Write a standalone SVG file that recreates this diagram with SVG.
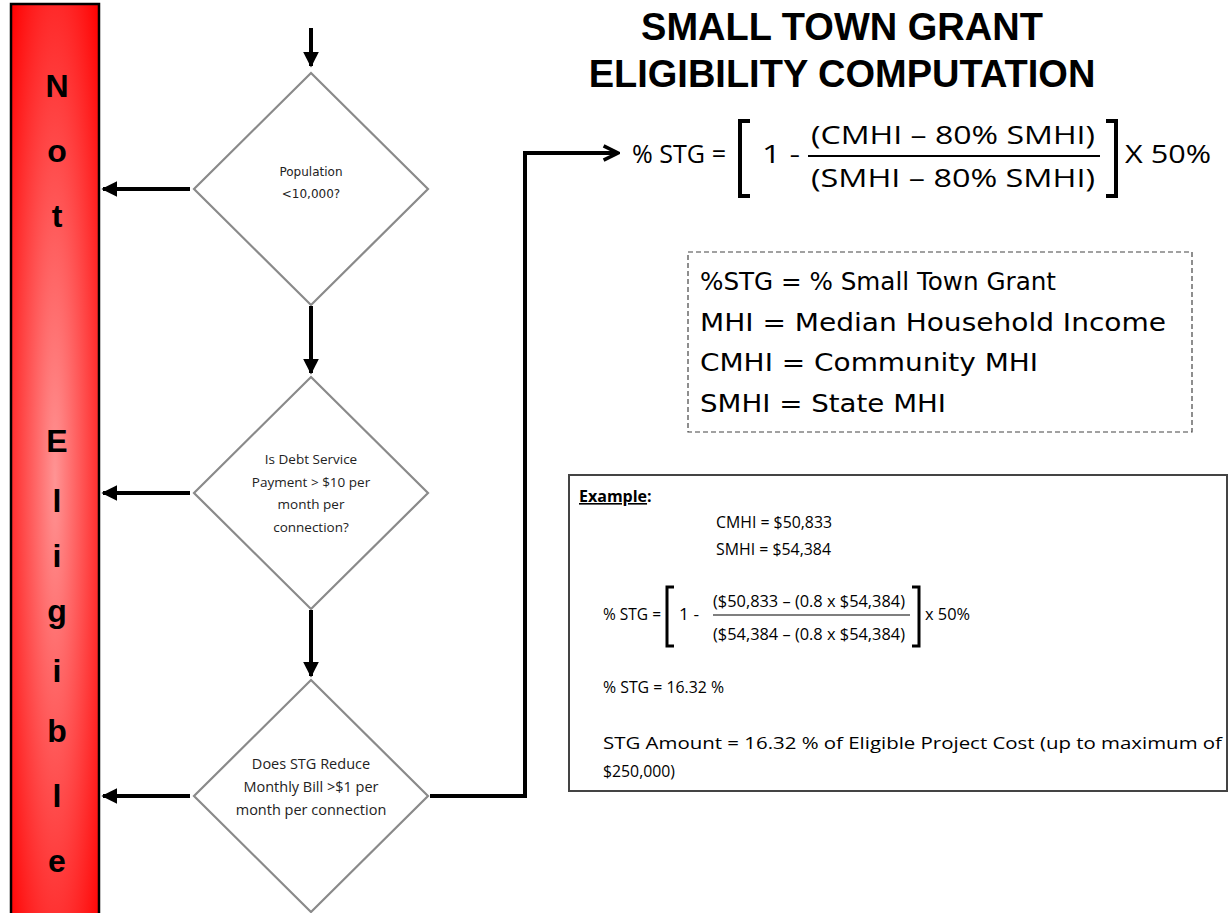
<svg xmlns="http://www.w3.org/2000/svg" width="1228" height="913" viewBox="0 0 1228 913">
<defs>
<radialGradient id="redgrad" cx="0.5" cy="0.52" r="0.72">
<stop offset="0" stop-color="#ff9494"/>
<stop offset="0.5" stop-color="#ff4a4a"/>
<stop offset="1" stop-color="#ff0000"/>
</radialGradient>
<marker id="ah" viewBox="0 0 10 10" refX="9" refY="5" markerWidth="4" markerHeight="4" orient="auto" markerUnits="strokeWidth">
<path d="M0,0 L10,5 L0,10 z" fill="#000"/>
</marker>
<marker id="open" viewBox="0 0 10 10" refX="9" refY="5" markerWidth="4.5" markerHeight="4.5" orient="auto" markerUnits="strokeWidth">
<path d="M1,1 L9,5 L1,9" fill="none" stroke="#000" stroke-width="2"/>
</marker>
</defs>
<style>
.dia{fill:#fff;stroke:#8a8a8a;stroke-width:2.2}
.dt{font-family:"DejaVu Sans",sans-serif;font-size:12px;fill:#222;text-anchor:middle}
.dt2{font-family:"Open Sans","Liberation Sans",sans-serif;font-size:13.5px;fill:#222;text-anchor:middle}
.conn{stroke:#000;stroke-width:4;fill:none}
.ne{font-family:"Liberation Sans",Arial,sans-serif;font-weight:bold;font-size:32px;fill:#000;text-anchor:middle}
.title{font-family:"Liberation Sans",Arial,sans-serif;font-weight:bold;font-size:38px;fill:#000;text-anchor:middle}
.f{font-family:"Open Sans","Liberation Sans",sans-serif;font-size:26px;fill:#000}
.leg{font-family:"DejaVu Sans",sans-serif;font-size:24px;fill:#000}
.ex{font-family:"Open Sans","Liberation Sans",sans-serif;font-size:16px;fill:#000}
</style>
<rect width="1228" height="913" fill="#fff"/>
<g id="not-eligible">
<rect x="11" y="4" width="88" height="915" fill="url(#redgrad)" stroke="#000" stroke-width="2.5"/>
<text class="ne" x="57" y="97">N</text>
<text class="ne" x="57" y="162">o</text>
<text class="ne" x="57" y="227">t</text>
<text class="ne" x="57" y="452">E</text>
<text class="ne" x="57" y="512">l</text>
<text class="ne" x="57" y="567">i</text>
<text class="ne" x="57" y="622">g</text>
<text class="ne" x="57" y="682">i</text>
<text class="ne" x="57" y="742">b</text>
<text class="ne" x="57" y="807">l</text>
<text class="ne" x="57" y="872">e</text>
</g>
<g id="d1">
<polygon class="dia" points="311,73 428,189 311,305 194,189"/>
<text class="dt" x="311" y="176">Population</text>
<text class="dt" x="311" y="198">&lt;10,000?</text>
</g>
<g id="d2">
<polygon class="dia" points="311,377 428,493 311,609 194,493"/>
<text class="dt2" x="311" y="464">Is Debt Service</text>
<text class="dt2" x="311" y="487">Payment &gt; $10 per</text>
<text class="dt2" x="311" y="509">month per</text>
<text class="dt2" x="311" y="532">connection?</text>
</g>
<g id="d3">
<polygon class="dia" points="311,680 428,796 311,912 194,796"/>
<text class="dt2" x="311" y="769" style="font-size:14.5px">Does STG Reduce</text>
<text class="dt2" x="311" y="792" style="font-size:14.5px">Monthly Bill &gt;$1 per</text>
<text class="dt2" x="311" y="815" style="font-size:14.5px">month per connection</text>
</g>
<g id="connectors">
<line class="conn" x1="311" y1="28" x2="311" y2="66" marker-end="url(#ah)"/>
<line class="conn" x1="311" y1="306" x2="311" y2="373" marker-end="url(#ah)"/>
<line class="conn" x1="311" y1="610" x2="311" y2="676" marker-end="url(#ah)"/>
<line class="conn" x1="190" y1="189" x2="103" y2="189" marker-end="url(#ah)"/>
<line class="conn" x1="190" y1="493" x2="103" y2="493" marker-end="url(#ah)"/>
<line class="conn" x1="190" y1="796" x2="103" y2="796" marker-end="url(#ah)"/>
<polyline class="conn" points="430,796 525,796 525,153 618,153" marker-end="url(#open)"/>
</g>
<g id="title">
<text class="title" x="842" y="40">SMALL TOWN GRANT</text>
<text class="title" x="842" y="87">ELIGIBILITY COMPUTATION</text>
</g>
<g id="formula">
<text class="f" x="632" y="163" textLength="94" lengthAdjust="spacingAndGlyphs">% STG =</text>
<path d="M750,121 L740,121 L740,196 L750,196" fill="none" stroke="#000" stroke-width="4"/>
<text class="f" x="762" y="163" textLength="38" lengthAdjust="spacingAndGlyphs">1 -</text>
<text class="f" x="811" y="144" textLength="284" lengthAdjust="spacingAndGlyphs">(CMHI – 80% SMHI)</text>
<line x1="808" y1="156" x2="1100" y2="156" stroke="#000" stroke-width="2"/>
<text class="f" x="811" y="187" textLength="284" lengthAdjust="spacingAndGlyphs">(SMHI – 80% SMHI)</text>
<path d="M1106,121 L1116,121 L1116,196 L1106,196" fill="none" stroke="#000" stroke-width="4"/>
<text class="f" x="1125" y="163" textLength="86" lengthAdjust="spacingAndGlyphs">X 50%</text>
</g>
<g id="legend">
<rect x="688" y="252" width="504" height="180" fill="none" stroke="#444" stroke-width="1.2" stroke-dasharray="5,3"/>
<text class="leg" x="700" y="290" textLength="356" lengthAdjust="spacingAndGlyphs">%STG = % Small Town Grant</text>
<text class="leg" x="700" y="331" textLength="466" lengthAdjust="spacingAndGlyphs">MHI = Median Household Income</text>
<text class="leg" x="700" y="371" textLength="338" lengthAdjust="spacingAndGlyphs">CMHI = Community MHI</text>
<text class="leg" x="700" y="412" textLength="246" lengthAdjust="spacingAndGlyphs">SMHI = State MHI</text>
</g>
<g id="example">
<rect x="569" y="475" width="658" height="316" fill="#fff" stroke="#444" stroke-width="2"/>
<text class="ex" x="579" y="502" font-weight="bold"><tspan text-decoration="underline">Example</tspan>:</text>
<text class="ex" x="716" y="528" textLength="116" lengthAdjust="spacingAndGlyphs">CMHI = $50,833</text>
<text class="ex" x="716" y="555" textLength="115" lengthAdjust="spacingAndGlyphs">SMHI = $54,384</text>
<text class="ex" x="603" y="620" textLength="58" lengthAdjust="spacingAndGlyphs">% STG =</text>
<path d="M674,587 L667,587 L667,646 L674,646" fill="none" stroke="#000" stroke-width="3"/>
<text class="ex" x="679" y="620" textLength="20" lengthAdjust="spacingAndGlyphs">1 -</text>
<text class="ex" x="713" y="607" textLength="192" lengthAdjust="spacingAndGlyphs">($50,833 – (0.8 x $54,384)</text>
<line x1="713" y1="615" x2="910" y2="615" stroke="#000" stroke-width="1.2"/>
<text class="ex" x="713" y="640" textLength="192" lengthAdjust="spacingAndGlyphs">($54,384 – (0.8 x $54,384)</text>
<path d="M912,587 L919,587 L919,646 L912,646" fill="none" stroke="#000" stroke-width="3"/>
<text class="ex" x="925" y="620" textLength="45" lengthAdjust="spacingAndGlyphs">x 50%</text>
<text class="ex" x="603" y="693" textLength="121" lengthAdjust="spacingAndGlyphs">% STG = 16.32 %</text>
<text class="ex" x="603" y="749" textLength="619" lengthAdjust="spacingAndGlyphs">STG Amount  = 16.32 % of Eligible Project Cost (up to maximum  of</text>
<text class="ex" x="603" y="777" textLength="72" lengthAdjust="spacingAndGlyphs">$250,000)</text>
</g>
</svg>
